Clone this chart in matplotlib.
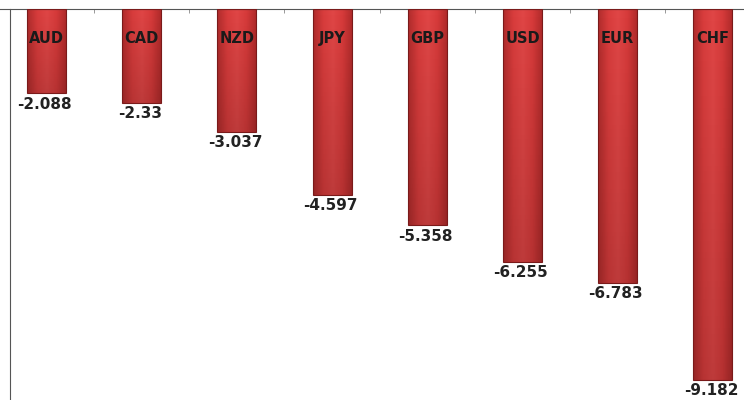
import numpy as np
import matplotlib
matplotlib.use("Agg")
import matplotlib.pyplot as plt
from matplotlib.colors import LinearSegmentedColormap

currencies = ["AUD", "CAD", "NZD", "JPY", "GBP", "USD", "EUR", "CHF"]
values = [-2.088, -2.33, -3.037, -4.597, -5.358, -6.255, -6.783, -9.182]

fig = plt.figure(figsize=(7.44, 4.0), dpi=100)
ax = fig.add_axes([0.0, 0.0, 1.0, 1 - 9 / 400])

x = np.arange(len(currencies))
width = 0.41
x_left, x_right = -0.488, 7.327

# red gradient: darker at the bar edges, lighter toward the middle
cmap = LinearSegmentedColormap.from_list(
    "bar_red", ["#b02c2c", "#d83c3c", "#e04646", "#d63a3a", "#ae2a2a"])
grad_h = np.linspace(0, 1, 64)[None, :]
shade_cmap = LinearSegmentedColormap.from_list("s", ["#000000", "#000000"])

ax.bar(x, values, width=width, color="none", edgecolor="#7a1a1a",
       linewidth=0.8, zorder=3)
for xi, v in zip(x, values):
    ext = (xi - width / 2, xi + width / 2, v, 0)
    ax.imshow(grad_h, cmap=cmap, aspect="auto", extent=ext,
              interpolation="bicubic", zorder=2)
    # darken slightly toward the bottom
    shade = np.linspace(0, 0.15, 64)[:, None]
    ax.imshow(np.ones((64, 1)), cmap=shade_cmap, alpha=shade,
              aspect="auto", extent=ext, zorder=2.5)

for xi, v, name in zip(x, values, currencies):
    ax.text(xi, -0.72, name, ha="center", va="center", fontsize=10.5,
            fontweight="bold", color="#1a1a1a", zorder=4)
    ax.text(xi - 0.02, v - 0.08, f"{v:g}", ha="center", va="top",
            fontsize=11, fontweight="bold", color="#222222", zorder=4)

ax.set_xlim(x_left, x_right)
ax.set_ylim(-9.68, 0)
ax.set_yticks([])
ax.set_xticks([])
ax.set_xticks(x[:-1] + 0.5, minor=True)
ax.xaxis.set_ticks_position("top")
ax.tick_params(axis="x", which="minor", top=True, bottom=False,
               direction="in", length=3, color="#888888")

for s in ("right", "bottom"):
    ax.spines[s].set_visible(False)
ax.spines["top"].set_color("#555555")
ax.spines["left"].set_color("#555555")
ax.spines["left"].set_position(("data", x_left + 10 / 95.2))

fig.savefig("out.png", dpi=100, facecolor="white")
